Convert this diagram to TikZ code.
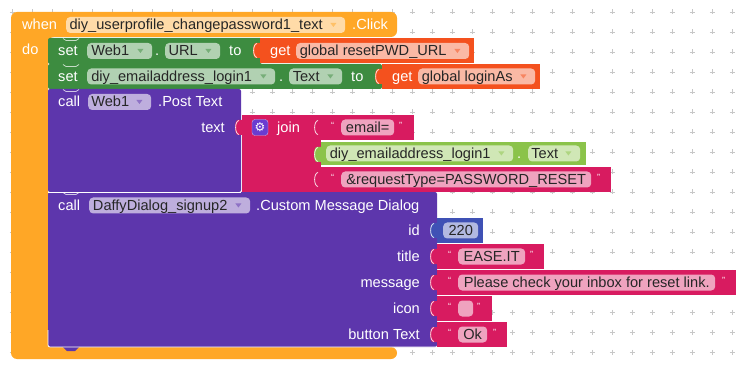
\documentclass[tikz,border=0pt]{standalone}
\usepackage{fontspec}
\setmainfont{Liberation Sans}
\newfontfamily\symfont{DejaVu Sans}
\usetikzlibrary{calc}

\definecolor{evtc}{HTML}{FFA726}
\definecolor{setc}{HTML}{3D8C40}
\definecolor{getc}{HTML}{F4511E}
\definecolor{callc}{HTML}{5D36AC}
\definecolor{txtc}{HTML}{D81B60}
\definecolor{compc}{HTML}{8BC34A}
\definecolor{numc}{HTML}{3F51B5}
\definecolor{gearc}{HTML}{6A3CD0}

\begin{document}
\begin{tikzpicture}[x=1pt,y=-1pt,
  font=\fontsize{14.6}{16}\selectfont,
  lbl/.style={anchor=west, inner sep=0pt, text=white, text height=10pt, text depth=0pt},
  rlbl/.style={lbl, anchor=east},
  fld/.style={anchor=west, inner sep=0pt, minimum height=16pt, rounded corners=4pt,
    fill=white, fill opacity=0.6, text opacity=1, text=black!85,
    text height=10pt, text depth=0pt},
  qt/.style={anchor=west, inner sep=0pt, text=white, font=\fontsize{9}{9}\selectfont},
  blk/.style={rounded corners=2pt}]
\useasboundingbox (0,0) rectangle (749,371);
% ---- workspace grid ----
\foreach \i in {0,...,36}
  \foreach \j in {0,...,17}
    \draw[black!22, line width=0.8pt] (12+20*\i-2.5,12+20*\j) -- ++(5,0)
      (12+20*\i,12+20*\j-2.5) -- ++(0,5);
% ---- event block ----
\fill[evtc, rounded corners=6pt] (11,12) -- (397,12) -- (397,37) -- (48,37)
  -- (48,347) -- (397,347) -- (397,359) -- (11,359) -- cycle;
\node[lbl] (when) at (22,25) {when};
\node[fld, minimum width=279pt] (evtfld) at (66,25)
  {diy\_userprofile\_changepassword1\_text\kern19pt};
\node[lbl] (click) at (352,25) {.Click};
\node[lbl] (do) at (22,50) {do};
% ---- statement blocks ----
\fill[setc, blk] (48,38) rectangle (262,64);
\fill[setc, blk] (48,64) rectangle (382,89);
\fill[callc, blk] (48,89) rectangle (241,192);
\fill[callc, blk] (48,192) rectangle (437,347);
\fill[callc] (63,347) -- (67,351) -- (75,351) -- (79,347) -- cycle;
\draw[white, line width=0.8pt] (48,192) -- (241,192);
\draw[white, line width=0.8pt, rounded corners=2pt] (48,330) -- (48,347) -- (437,347);
% ---- value blocks ----
\fill[getc] (260,38) rectangle (474,63);
\fill[getc] (382,64) rectangle (540,89);
\fill[txtc] (242,115) rectangle (321,192);
\fill[txtc] (321,115) rectangle (414,140);
\fill[compc] (321,142) rectangle (586,165);
\fill[txtc] (321,167) rectangle (611,192);
\fill[numc] (437,218) rectangle (483,243);
\fill[txtc] (437,244) rectangle (544,269);
\fill[txtc] (437,270) rectangle (736,295);
\fill[txtc] (437,296) rectangle (492,321);
\fill[txtc] (437,322) rectangle (507,347);
% ---- input tabs ----
\foreach \x/\y/\c in {260/38/getc, 382/64/getc, 242/115/txtc, 321/115/txtc,
    321/142/compc, 321/167/txtc, 437/218/numc, 437/244/txtc, 437/270/txtc,
    437/296/txtc, 437/322/txtc} {
  \fill[\c] (\x+1,\y+5) -- (\x-4,\y+5) .. controls (\x-8,\y+5) and (\x-8,\y+20)
    .. (\x-4,\y+20) -- (\x+1,\y+20) -- cycle;
  \draw[white!85!\c, line width=0.8pt] (\x-3,\y+5.5) .. controls (\x-7.5,\y+6)
    and (\x-7.5,\y+19) .. (\x-3,\y+19.5);
}
% ---- statement notches ----
\foreach \y in {38,64,89,192}
  \draw[white, line width=0.7pt, opacity=0.7] (63,\y+0.5) -- (66,\y+2.5) -- (76,\y+2.5) -- (79,\y+0.5);
% ---- set Web1.URL ----
\node[lbl] (set1) at (58,51) {set};
\node[fld, minimum width=65pt] (w1) at (87,51) {Web1\kern19pt};
\node[lbl] (dot1) at (155,51) {.};
\node[fld, minimum width=55pt] (url) at (165,51) {URL\kern19pt};
\node[lbl] (to1) at (229,51) {to};
\node[lbl] (get1) at (270,51) {get};
\node[fld, minimum width=173pt] (gpw) at (296,51) {global resetPWD\_URL\kern19pt};
% ---- set login.Text ----
\node[lbl] (set2) at (58,76.5) {set};
\node[fld, minimum width=188pt] (em1) at (87,76.5) {diy\_emailaddress\_login1\kern19pt};
\node[lbl] (dot2) at (279,76.5) {.};
\node[fld, minimum width=53pt] (tx1) at (289,76.5) {Text\kern19pt};
\node[lbl] (to2) at (351,76.5) {to};
\node[lbl] (get2) at (392,76.5) {get};
\node[fld, minimum width=117pt] (gla) at (418,76.5) {global loginAs\kern19pt};
% ---- call Web1.PostText ----
\node[lbl] (call1) at (58,102) {call};
\node[fld, minimum width=63pt] (w2) at (88,102) {Web1\kern19pt};
\node[lbl] (post) at (158,102) {.Post Text};
\node[rlbl] (txtlbl) at (225,127.5) {text};
\node[fill=gearc, draw=white!60!gearc, rounded corners=3pt, minimum size=16pt,
  inner sep=0pt, text=white, font=\symfont\fontsize{12}{12}\selectfont]
  (gear) at (260,127.5) {⚙};
\node[lbl] (join) at (277,127.5) {join};
\node[qt] (q1a) at (331,125.5) {“};
\node[fld, minimum width=53pt] (s1) at (341,127.5) {email=};
\node[qt] (q1b) at (399,125.5) {”};
\node[fld, minimum width=187pt] (em2) at (326,153.5) {diy\_emailaddress\_login1\kern19pt};
\node[lbl] (dot3) at (517,153.5) {.};
\node[fld, minimum width=52pt] (tx2) at (528,153.5) {Text\kern19pt};
\node[qt] (q3a) at (331,177.5) {“};
\node[fld, minimum width=250pt] (s3) at (341,179.5) {\&requestType=PASSWORD\_RESET};
\node[qt] (q3b) at (597,177.5) {”};
% ---- call DaffyDialog ----
\node[lbl] (call2) at (58,205.5) {call};
\node[fld, minimum width=161pt] (dd) at (89,205.5) {DaffyDialog\_signup2\kern19pt};
\node[lbl] (cmd) at (256,205.5) {.Custom Message Dialog};
\node[rlbl] (idl) at (420,230.5) {id};
\node[rlbl] (titlel) at (420,256.5) {title};
\node[rlbl] (msgl) at (420,282.5) {message};
\node[rlbl] (iconl) at (420,308.5) {icon};
\node[rlbl] (btnl) at (420,334.5) {button Text};
\node[fld, minimum width=35pt] (num) at (443,230.5) {220};
\node[qt] (q4a) at (448,254.5) {“};
\node[fld, minimum width=67pt] (ttl) at (458,256.5) {EASE.IT};
\node[qt] (q4b) at (530,254.5) {”};
\node[qt] (q5a) at (448,280.5) {“};
\node[fld, minimum width=257pt] (msg) at (458,282.5) {Please check your inbox for reset link.};
\node[qt] (q5b) at (722,280.5) {”};
\node[qt] (q6a) at (448,306.5) {“};
\node[fld, minimum width=15pt] (ico) at (458,308.5) {};
\node[qt] (q6b) at (477,306.5) {”};
\node[qt] (q7a) at (448,332.5) {“};
\node[fld, minimum width=29pt] (btn) at (458,334.5) {Ok};
\node[qt] (q7b) at (493,332.5) {”};
% ---- dropdown arrows ----
\foreach \f/\c in {evtfld/evtc, w1/setc, url/setc, gpw/getc, em1/setc, tx1/setc,
    gla/getc, w2/callc, em2/compc, tx2/compc, dd/callc}
  \fill[\c!70!white] ($(\f.east)+(-15,-2)$) -- ++(6,0) -- ++(-3,4) -- cycle;
\end{tikzpicture}
\end{document}
